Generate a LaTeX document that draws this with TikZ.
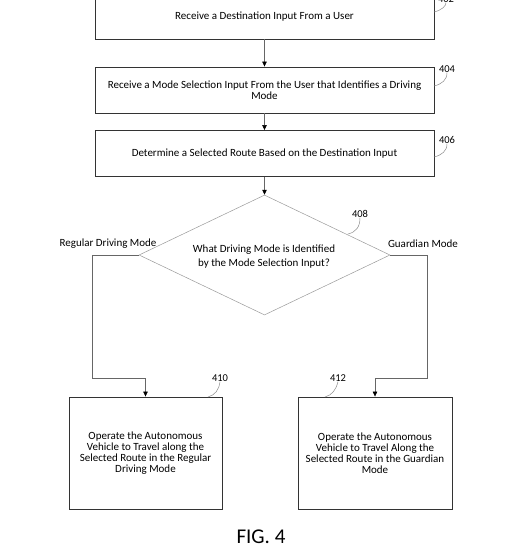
\documentclass[tikz,border=0pt]{standalone}
\usepackage{fontspec}
\setmainfont{Carlito}
\usetikzlibrary{shapes.geometric,arrows.meta}
\begin{document}
\begin{tikzpicture}[x=1pt,y=-1pt,
  stepbox/.style={draw=black!80,line width=0.9pt,inner sep=0pt,align=center,font=\fontsize{11}{11}\selectfont},
  conn/.style={draw=black!60,line width=0.6pt},
  arr/.style={conn,-{Triangle[length=5pt,width=4.5pt]},arrows={[color=black]}},
  lead/.style={draw=black!45,line width=0.5pt},
  reflbl/.style={font=\fontsize{10.5}{11}\selectfont,inner sep=0pt},
  modelbl/.style={font=\fontsize{11}{11}\selectfont,inner sep=0pt}]
\useasboundingbox (0,0) rectangle (520,550);
\node[stepbox,minimum width=339pt,minimum height=47pt] (b402) at (264.5,15.5) {};
\node[font=\fontsize{11}{11}\selectfont,inner sep=0pt] (t402) at (264.5,16.5) {Receive a Destination Input From a User};
\node[stepbox,minimum width=339pt,minimum height=46pt] (b404) at (264.5,90) {Receive a Mode Selection Input From the User that Identifies a Driving\\Mode};
\node[stepbox,minimum width=339pt,minimum height=46pt] (b406) at (264.5,153.5) {Determine a Selected Route Based on the Destination Input};
\node[diamond,draw=black!40,line width=0.5pt,inner sep=0pt,minimum width=251pt,minimum height=120pt] (dec) at (264.5,255) {};
\node[align=center,font=\fontsize{11}{14}\selectfont,inner sep=0pt] (dectxt) at (264,256.5) {What Driving Mode is Identified\\by the Mode Selection Input?};
\node[stepbox,minimum width=153pt,minimum height=112pt] (b410) at (145.5,453) {Operate the Autonomous\\Vehicle to Travel along the\\Selected Route in the Regular\\Driving Mode};
\node[stepbox,minimum width=154pt,minimum height=112pt] (b412) at (375,453) {Operate the Autonomous\\Vehicle to Travel Along the\\Selected Route in the Guardian\\Mode};
% reference labels
\node[reflbl] (l402) at (446,-1) {402};
\node[reflbl] (l404) at (447,69) {404};
\node[reflbl] (l406) at (447,140) {406};
\node[reflbl] (l408) at (360,214) {408};
\node[reflbl] (l410) at (220,378) {410};
\node[reflbl] (l412) at (338,378) {412};
\node[modelbl] (lreg) at (108,243.5) {Regular Driving Mode};
\node[modelbl] (lgua) at (423,243.5) {Guardian Mode};
\node[font=\fontsize{21}{22}\selectfont,inner sep=0pt] (fig) at (261,537) {FIG. 4};
% connectors
\draw[arr] (b402.south) -- (b404.north);
\draw[arr] (b404.south) -- (b406.north);
\draw[arr] (b406.south) -- (dec.north);
\coordinate (lc) at (92,378);
\coordinate (rc) at (427,378);
\draw[arr] (dec.west) -| (lc) -| (b410.north);
\draw[arr] (dec.east) -| (rc) -| (b412.north);
% leaders
\draw[lead] (434,12) .. controls (442,10) and (446,6) .. (l402.south);
\draw[lead] (434,86) .. controls (442,84) and (447,80) .. (l404.south);
\draw[lead] (434,157) .. controls (442,155) and (447,151) .. (l406.south);
\draw[lead] (348,234) .. controls (356,232) and (360,227) .. (l408.south);
\draw[lead] (208,397) .. controls (215,395) and (219,390) .. (l410.south);
\draw[lead] (325,397) .. controls (332,395) and (336,390) .. (l412.south);
\end{tikzpicture}
\end{document}
